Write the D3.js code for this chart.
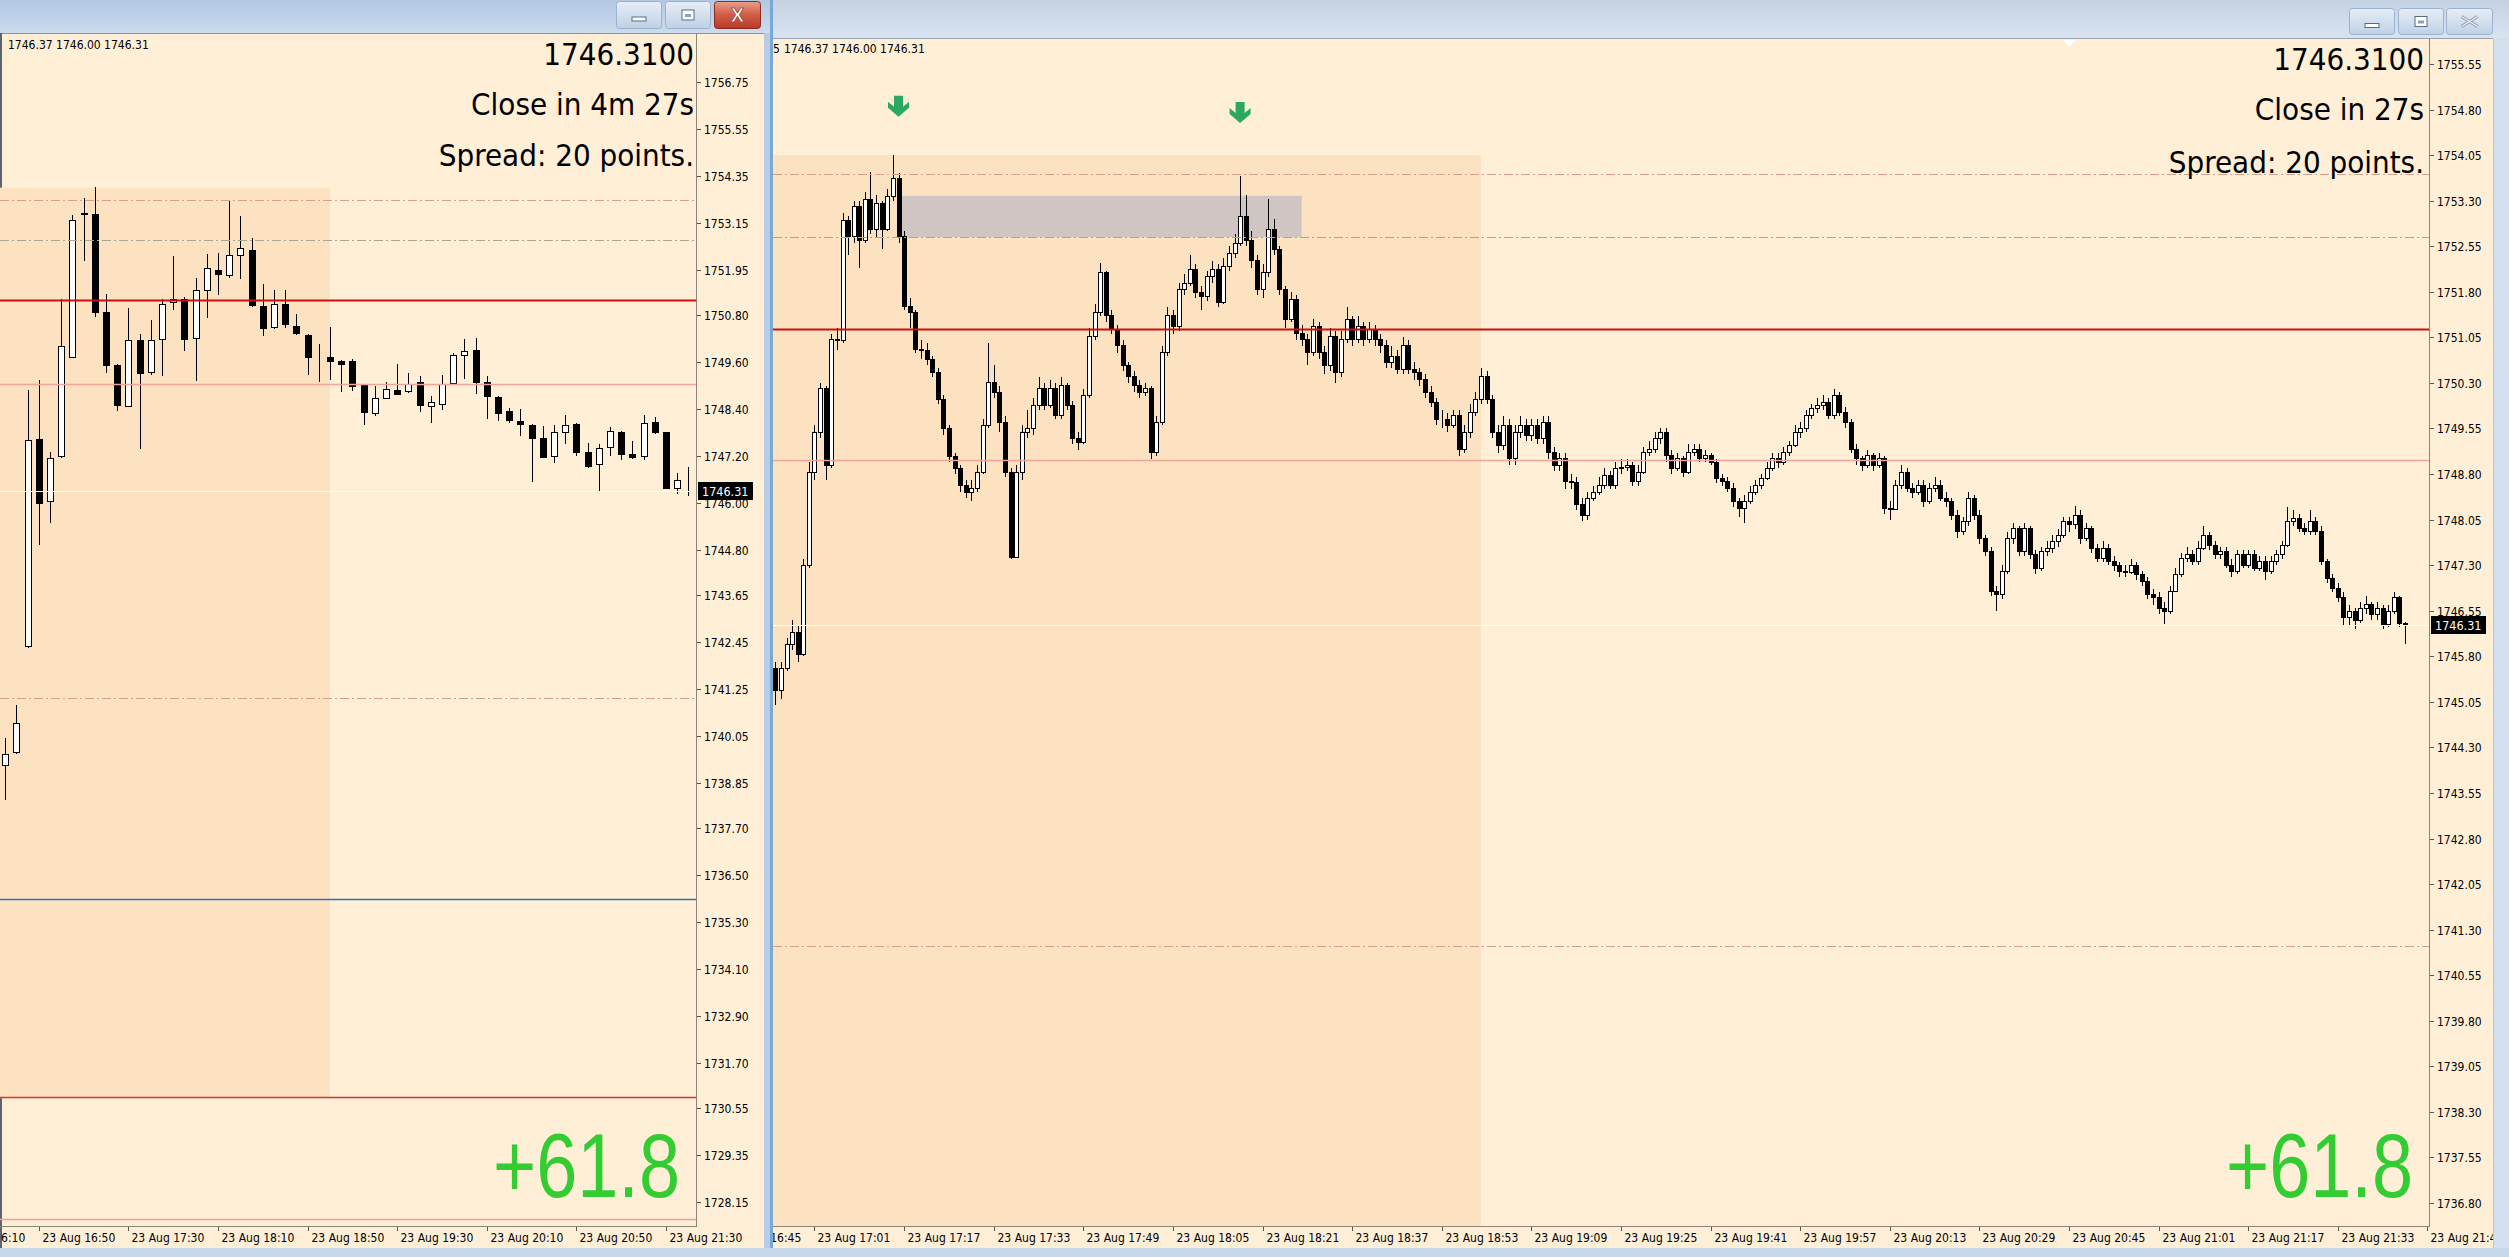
<!DOCTYPE html>
<html><head><meta charset="utf-8">
<script src="https://cdn.jsdelivr.net/npm/d3@7"></script>
<style>
html,body{margin:0;padding:0;background:#c6d7eb;overflow:hidden}
svg{display:block}
</style></head><body>
<svg id="c" width="2509" height="1257"></svg>
<script>
// ---------------- DATA ----------------
// Left window: XAUUSD M5, bars 16:35 .. 21:45
const m5Open = [1739.31,1739.65,1742.36,1747.63,1746.06,1747.21,1749.74,1753.38,1753.39,1750.88,1749.52,1748.47,1750.16,1749.34,1750.18,1751.13,1751.21,1750.22,1751.43,1751.94,1751.83,1752.33,1752.46,1751.04,1750.50,1751.09,1750.53,1750.29,1749.75,1749.73,1749.63,1749.62,1749.00,1748.29,1748.68,1748.89,1748.86,1749.10,1748.47,1748.54,1749.07,1749.77,1749.90,1749.08,1748.71,1748.36,1748.09,1748.00,1747.65,1747.19,1747.80,1748.02,1747.30,1747.00,1747.43,1747.80,1747.25,1747.19,1748.06,1747.80,1746.38,1746.56,1746.50];
const m5High = [1740.00,1740.84,1748.89,1749.15,1747.30,1751.20,1753.36,1753.78,1754.06,1751.34,1749.55,1750.97,1750.32,1750.66,1751.22,1752.31,1751.25,1751.75,1752.35,1752.38,1753.73,1753.34,1752.77,1751.59,1751.45,1751.45,1750.82,1750.32,1750.05,1750.50,1749.66,1749.68,1749.02,1748.99,1749.10,1749.56,1749.33,1749.24,1748.73,1749.26,1749.84,1750.18,1750.22,1749.24,1748.74,1748.43,1748.41,1748.02,1747.96,1747.99,1748.25,1748.04,1747.54,1747.51,1747.94,1747.83,1747.57,1748.25,1748.20,1747.82,1746.77,1746.93,1746.60];
const m5Low = [1738.42,1739.60,1742.30,1744.92,1745.50,1747.15,1749.70,1752.19,1750.74,1749.31,1748.36,1748.45,1747.39,1749.26,1749.24,1750.93,1749.87,1749.12,1750.73,1751.30,1751.75,1751.73,1751.01,1750.26,1750.45,1750.48,1750.29,1749.26,1749.10,1749.13,1748.84,1748.86,1747.99,1748.23,1748.65,1748.75,1748.81,1748.33,1748.04,1748.38,1749.02,1749.17,1748.78,1748.15,1748.09,1748.04,1747.72,1746.53,1747.14,1747.01,1747.51,1747.19,1746.90,1746.27,1747.19,1747.09,1747.12,1747.09,1747.75,1746.38,1746.23,1746.17,1746.00];
const m5Close = [1739.59,1740.37,1747.60,1746.00,1747.15,1750.02,1753.23,1753.41,1750.87,1749.53,1748.49,1750.16,1749.32,1750.16,1751.09,1751.20,1750.19,1751.43,1752.01,1751.85,1752.33,1752.51,1751.05,1750.46,1751.08,1750.56,1750.33,1749.74,1749.76,1749.63,1749.56,1748.99,1748.33,1748.68,1748.92,1748.78,1749.03,1748.51,1748.57,1749.03,1749.78,1749.87,1749.10,1748.72,1748.31,1748.11,1748.01,1747.67,1747.17,1747.81,1747.98,1747.30,1746.94,1747.40,1747.85,1747.26,1747.17,1748.05,1747.82,1746.38,1746.58,1746.56,1746.31];

// Right window: XAUUSD M1, bars 16:54 .. 21:45 (each bar opens at previous close)
const m1FirstOpen = 1745.60;
const m1Close = [
1745.25,1745.60,1746.00,1746.20,1745.84,1747.31,1748.84,1749.50,1750.21,1748.95,
1751.02,1751.00,1752.99,1752.72,1753.21,1752.66,1753.32,1752.83,1753.26,1752.83,
1753.37,1753.67,1752.72,1751.57,1751.46,1750.86,1750.85,1750.70,1750.48,1750.04,
1749.55,1749.09,1748.90,1748.62,1748.51,1748.57,1748.84,1749.61,1750.32,1750.15,
1749.66,1748.84,1747.43,1748.84,1749.50,1749.55,1749.93,1750.21,1749.93,1750.21,
1749.77,1750.26,1749.93,1749.39,1749.33,1750.10,1751.08,1751.46,1752.12,1751.41,
1751.19,1750.92,1750.59,1750.42,1750.26,1750.15,1750.21,1749.17,1749.66,1750.81,
1751.41,1751.24,1751.84,1751.95,1752.17,1751.79,1751.73,1752.06,1752.17,1751.63,
1752.23,1752.44,1752.61,1753.04,1752.66,1752.33,1751.84,1752.12,1752.83,1752.50,
1751.84,1751.35,1751.68,1751.13,1751.02,1750.81,1751.24,1750.81,1750.59,1751.08,
1750.48,1751.02,1751.35,1751.02,1751.24,1751.02,1751.19,1751.02,1750.92,1750.64,
1750.75,1750.53,1750.92,1750.53,1750.48,1750.37,1750.15,1749.99,1749.71,1749.70,
1749.61,1749.77,1749.22,1749.50,1749.82,1750.04,1750.42,1750.04,1749.50,1749.28,
1749.61,1749.06,1749.50,1749.61,1749.44,1749.61,1749.39,1749.66,1749.17,1748.95,
1749.06,1748.68,1748.67,1748.30,1748.13,1748.41,1748.51,1748.62,1748.79,1748.62,
1748.90,1748.92,1748.95,1748.68,1748.84,1749.17,1749.22,1749.39,1749.50,1749.11,
1748.90,1749.06,1748.84,1749.17,1749.22,1749.06,1749.11,1749.00,1748.73,1748.68,
1748.57,1748.35,1748.24,1748.35,1748.51,1748.62,1748.73,1748.90,1749.06,1749.00,
1749.17,1749.28,1749.50,1749.55,1749.77,1749.88,1749.93,1749.99,1749.77,1750.10,
1749.82,1749.66,1749.22,1749.06,1748.95,1749.11,1748.95,1749.06,1748.24,1748.23,
1748.62,1748.84,1748.57,1748.51,1748.62,1748.35,1748.57,1748.62,1748.41,1748.35,
1748.13,1747.86,1748.02,1748.41,1748.13,1747.75,1747.53,1746.88,1746.82,1747.20,
1747.75,1747.91,1747.53,1747.91,1747.48,1747.26,1747.53,1747.59,1747.70,1747.80,
1748.02,1747.97,1748.13,1747.75,1747.91,1747.59,1747.42,1747.59,1747.37,1747.31,
1747.20,1747.19,1747.31,1747.15,1747.04,1746.82,1746.77,1746.60,1746.55,1746.88,
1747.15,1747.42,1747.48,1747.37,1747.59,1747.80,1747.64,1747.48,1747.53,1747.31,
1747.20,1747.48,1747.31,1747.48,1747.26,1747.37,1747.20,1747.37,1747.48,1747.64,
1748.02,1748.08,1747.91,1747.86,1748.02,1747.86,1747.37,1747.09,1746.93,1746.77,
1746.44,1746.55,1746.39,1746.60,1746.66,1746.49,1746.60,1746.33,1746.55,1746.77,
1746.35,1746.31];
const m1High = [
1745.70,1745.70,1746.10,1746.40,1746.30,1747.40,1749.00,1749.60,1750.30,1750.25,
1751.10,1751.20,1753.10,1753.05,1753.30,1753.30,1753.45,1753.78,1753.40,1753.30,
1753.50,1754.05,1753.75,1752.80,1751.70,1751.50,1751.00,1750.95,1750.75,1750.55,
1750.10,1749.60,1749.15,1748.95,1748.70,1748.70,1748.95,1749.70,1750.95,1750.60,
1750.25,1749.75,1748.90,1748.95,1749.60,1749.85,1750.05,1750.40,1750.30,1750.35,
1750.30,1750.40,1750.30,1750.00,1749.50,1750.20,1751.20,1751.60,1752.28,1752.15,
1751.50,1751.25,1751.00,1750.65,1750.50,1750.35,1750.30,1750.25,1749.75,1750.90,
1751.55,1751.50,1751.95,1752.10,1752.40,1752.25,1751.90,1752.15,1752.30,1752.25,
1752.35,1752.55,1752.75,1753.71,1753.40,1752.80,1752.40,1752.25,1753.32,1753.00,
1752.55,1751.90,1751.80,1751.75,1751.25,1751.10,1751.35,1751.30,1750.90,1751.20,
1751.15,1751.15,1751.55,1751.40,1751.40,1751.30,1751.30,1751.25,1751.10,1751.00,
1750.90,1750.85,1751.05,1751.00,1750.65,1750.55,1750.45,1750.25,1750.05,1749.85,
1749.80,1749.85,1749.85,1749.60,1749.95,1750.15,1750.55,1750.50,1750.10,1749.60,
1749.75,1749.70,1749.60,1749.75,1749.70,1749.70,1749.70,1749.75,1749.75,1749.25,
1749.15,1749.15,1748.80,1748.75,1748.40,1748.50,1748.60,1748.75,1748.90,1748.85,
1749.00,1749.05,1749.05,1749.00,1748.95,1749.25,1749.35,1749.50,1749.55,1749.55,
1749.20,1749.15,1749.10,1749.30,1749.30,1749.30,1749.20,1749.15,1749.05,1748.80,
1748.75,1748.65,1748.40,1748.45,1748.60,1748.70,1748.80,1749.00,1749.15,1749.15,
1749.25,1749.35,1749.60,1749.65,1749.85,1749.95,1750.05,1750.10,1750.05,1750.20,
1750.15,1749.90,1749.70,1749.30,1749.10,1749.20,1749.15,1749.15,1749.10,1748.35,
1748.70,1748.95,1748.90,1748.65,1748.70,1748.70,1748.65,1748.75,1748.70,1748.50,
1748.40,1748.20,1748.10,1748.50,1748.45,1748.20,1747.80,1747.60,1746.95,1747.30,
1747.85,1748.00,1747.95,1748.00,1747.95,1747.55,1747.60,1747.70,1747.80,1747.90,
1748.10,1748.10,1748.27,1748.20,1748.00,1747.95,1747.65,1747.70,1747.65,1747.45,
1747.35,1747.30,1747.40,1747.35,1747.20,1747.10,1746.90,1746.85,1746.70,1746.95,
1747.25,1747.50,1747.60,1747.55,1747.70,1747.94,1747.85,1747.70,1747.60,1747.60,
1747.40,1747.55,1747.55,1747.55,1747.55,1747.45,1747.45,1747.45,1747.55,1747.70,
1748.25,1748.20,1748.15,1748.00,1748.20,1748.10,1747.95,1747.40,1747.15,1747.00,
1746.85,1746.65,1746.60,1746.70,1746.80,1746.70,1746.70,1746.65,1746.65,1746.85,
1746.80,1746.37];
const m1Low = [
1745.00,1745.10,1745.55,1745.90,1745.70,1745.80,1747.25,1748.70,1749.40,1748.70,
1748.90,1750.85,1750.95,1752.40,1752.60,1752.20,1752.60,1752.75,1752.70,1752.50,
1752.80,1753.30,1752.60,1751.50,1751.20,1750.80,1750.70,1750.60,1750.40,1749.95,
1749.45,1749.00,1748.80,1748.50,1748.40,1748.35,1748.50,1748.80,1749.55,1750.05,
1749.50,1748.75,1747.40,1747.43,1748.70,1749.40,1749.45,1749.85,1749.85,1749.88,
1749.70,1749.70,1749.85,1749.30,1749.20,1749.30,1750.05,1751.00,1751.40,1751.30,
1751.10,1750.80,1750.50,1750.30,1750.15,1750.05,1750.08,1749.05,1749.10,1749.60,
1750.75,1751.10,1751.15,1751.75,1751.90,1751.70,1751.50,1751.65,1751.95,1751.55,
1751.60,1752.15,1752.35,1752.55,1752.55,1752.20,1751.75,1751.70,1752.05,1752.40,
1751.75,1751.20,1751.30,1751.00,1750.90,1750.60,1750.75,1750.70,1750.45,1750.50,
1750.30,1750.40,1750.95,1750.90,1750.95,1750.90,1750.95,1750.90,1750.80,1750.55,
1750.55,1750.45,1750.45,1750.45,1750.35,1750.25,1750.05,1749.90,1749.60,1749.55,
1749.50,1749.55,1749.10,1749.15,1749.40,1749.75,1749.95,1749.95,1749.40,1749.15,
1749.20,1748.95,1748.95,1749.40,1749.35,1749.35,1749.30,1749.30,1749.05,1748.85,
1748.85,1748.55,1748.55,1748.20,1748.03,1748.05,1748.35,1748.45,1748.55,1748.55,
1748.55,1748.80,1748.85,1748.60,1748.60,1748.80,1749.10,1749.15,1749.30,1749.00,
1748.80,1748.85,1748.75,1748.80,1749.10,1749.00,1749.00,1748.95,1748.65,1748.60,
1748.50,1748.25,1748.10,1748.00,1748.30,1748.45,1748.55,1748.70,1748.85,1748.90,
1748.95,1749.10,1749.25,1749.40,1749.50,1749.70,1749.80,1749.85,1749.70,1749.70,
1749.75,1749.55,1749.15,1748.95,1748.85,1748.90,1748.85,1748.90,1748.15,1748.05,
1748.20,1748.55,1748.50,1748.40,1748.45,1748.25,1748.30,1748.50,1748.35,1748.25,
1748.05,1747.75,1747.80,1747.95,1748.05,1747.65,1747.45,1746.80,1746.55,1746.75,
1747.15,1747.65,1747.45,1747.45,1747.40,1747.15,1747.20,1747.45,1747.50,1747.60,
1747.75,1747.85,1747.90,1747.65,1747.70,1747.50,1747.35,1747.35,1747.30,1747.20,
1747.10,1747.10,1747.15,1747.05,1746.95,1746.75,1746.65,1746.50,1746.33,1746.50,
1746.85,1747.10,1747.35,1747.30,1747.30,1747.55,1747.55,1747.40,1747.40,1747.25,
1747.10,1747.15,1747.25,1747.25,1747.20,1747.20,1747.05,1747.15,1747.30,1747.40,
1747.60,1747.95,1747.85,1747.80,1747.80,1747.80,1747.30,1747.00,1746.85,1746.70,
1746.30,1746.30,1746.25,1746.35,1746.50,1746.40,1746.40,1746.25,1746.28,1746.50,
1746.28,1746.00];

// Axis tick labels
const m5PriceTicks = ["1756.75","1755.55","1754.35","1753.15","1751.95","1750.80","1749.60","1748.40","1747.20","1746.00","1744.80","1743.65","1742.45","1741.25","1740.05","1738.85","1737.70","1736.50","1735.30","1734.10","1732.90","1731.70","1730.55","1729.35","1728.15"];
const m1PriceTicks = ["1755.55","1754.80","1754.05","1753.30","1752.55","1751.80","1751.05","1750.30","1749.55","1748.80","1748.05","1747.30","1746.55","1745.80","1745.05","1744.30","1743.55","1742.80","1742.05","1741.30","1740.55","1739.80","1739.05","1738.30","1737.55","1736.80"];
const m5TimeLabels = ["23 Aug 16:10","23 Aug 16:50","23 Aug 17:30","23 Aug 18:10","23 Aug 18:50","23 Aug 19:30","23 Aug 20:10","23 Aug 20:50","23 Aug 21:30"];
const m5TimeBars = [-5,3,11,19,27,35,43,51,59];
const m1TimeLabels = ["23 Aug 16:45","23 Aug 17:01","23 Aug 17:17","23 Aug 17:33","23 Aug 17:49","23 Aug 18:05","23 Aug 18:21","23 Aug 18:37","23 Aug 18:53","23 Aug 19:09","23 Aug 19:25","23 Aug 19:41","23 Aug 19:57","23 Aug 20:13","23 Aug 20:29","23 Aug 20:45","23 Aug 21:01","23 Aug 21:17","23 Aug 21:33","23 Aug 21:49"];
const m1TimeBars = [-9,7,23,39,55,71,87,103,119,135,151,167,183,199,215,231,247,263,279,295];

// Chart objects
const bidPrice = 1746.31;
const levelPrices = [1753.74, 1752.71, 1751.19, 1749.03, 1741.03, 1735.89, 1730.82, 1727.71];
const zonePrices = [1754.05, 1730.80];
const zoneEndM5Bar = 29, zoneEndM1Bar = 126;      // 19:00
const boxPrices = [1753.38, 1752.70];
const boxM1Bars = [22, 94];
const arrowM1Bars = [22, 83];
const arrowPrices = [1754.68, 1754.58];
const infoTextM5 = "1746.37 1746.00 1746.31";
const infoPrefixM1 = "1746.35";
const infoTextM1 = "1746.37 1746.00 1746.31";
const bigLines = ["1746.3100", "Spread: 20 points."];
const closeTextM5 = "Close in 4m 27s", closeTextM1 = "Close in 27s";
const resultText = "+61.8";

// ---------------- DRAW ----------------
const W = 2509, H = 1257;
const BG = '#FFEFD6', ZONE = '#FDE2C2';
const FONT = '"DejaVu Sans Condensed","DejaVu Sans",sans-serif';
const svg = d3.select('#c');
const defs = svg.append('defs');
function lg(id, stops){
  const g = defs.append('linearGradient').attr('id', id).attr('x1',0).attr('y1',0).attr('x2',0).attr('y2',1);
  stops.forEach(([o,c]) => g.append('stop').attr('offset', o).attr('stop-color', c));
}
lg('titleL', [[0,'#b2c7e1'],[0.45,'#bdd0e8'],[1,'#cddcee']]);
lg('titleR', [[0,'#c5d2e3'],[1,'#d9e3f0']]);
lg('btn', [[0,'#e6eef7'],[0.5,'#d3dfee'],[1,'#bfd1e6']]);
lg('btnClose', [[0,'#e8a08a'],[0.45,'#d4604a'],[1,'#b73a26']]);
function clip(id, x, y, w, h){ defs.append('clipPath').attr('id', id).append('rect').attr('x',x).attr('y',y).attr('width',w).attr('height',h); }
clip('plotL', 0, 33, 696, 1193);
clip('plotR', 773, 39, 1656, 1187);
clip('winL', 0, 33, 764, 1215);
clip('winR', 773, 39, 1720, 1209);

svg.append('rect').attr('width',W).attr('height',H).attr('fill','#c6d7eb');

// ---- window chrome ----
svg.append('rect').attr('x',0).attr('y',0).attr('width',770).attr('height',33).attr('fill','url(#titleL)');
svg.append('rect').attr('x',770).attr('y',0).attr('width',1739).attr('height',38).attr('fill','url(#titleR)');
svg.append('rect').attr('x',0).attr('y',33).attr('width',764).attr('height',1215).attr('fill',BG);
svg.append('rect').attr('x',773).attr('y',39).attr('width',1720).attr('height',1209).attr('fill',BG);
svg.append('rect').attr('x',764).attr('y',33).attr('width',6).attr('height',1224).attr('fill','#b7cde7');
svg.append('rect').attr('x',770).attr('y',0).attr('width',3).attr('height',1257).attr('fill','#79a9d2');
svg.append('rect').attr('x',2493).attr('y',38).attr('width',16).attr('height',1219).attr('fill','#d3dfec');
svg.append('line').attr('x1',2493.5).attr('x2',2493.5).attr('y1',39).attr('y2',1248).attr('stroke','#b9c7d8');
svg.append('line').attr('x1',0).attr('x2',764).attr('y1',33.5).attr('y2',33.5).attr('stroke','#8a8f98');
svg.append('line').attr('x1',773).attr('x2',2493).attr('y1',38.5).attr('y2',38.5).attr('stroke','#9aa2ad');
svg.append('rect').attr('x',0).attr('y',33).attr('width',2).attr('height',1215).attr('fill','#5c6470');
svg.append('rect').attr('x',0).attr('y',1248).attr('width',2509).attr('height',9).attr('fill','#c9d9ec');

function button(x, y, w, h, kind, active){
  const g = svg.append('g');
  g.append('rect').attr('x',x+0.5).attr('y',y+0.5).attr('width',w-1).attr('height',h-1).attr('rx',3)
    .attr('fill', kind==='close' && active ? 'url(#btnClose)' : 'url(#btn)')
    .attr('stroke', kind==='close' && active ? '#8a2a1c' : '#9db2cc');
  const cx = x + w/2, cy = y + h/2;
  if (kind==='min') {
    g.append('rect').attr('x',cx-7).attr('y',cy+2).attr('width',14).attr('height',4).attr('fill','#fff').attr('stroke','#5a6a80').attr('stroke-width',1);
  } else if (kind==='max') {
    g.append('rect').attr('x',cx-6).attr('y',cy-5).attr('width',12).attr('height',10).attr('fill','#fff').attr('stroke','#5a6a80');
    g.append('rect').attr('x',cx-3).attr('y',cy-1).attr('width',6).attr('height',3).attr('fill','#8da0b8');
  } else {
    if (active) {
      g.append('text').attr('x',cx).attr('y',cy+7).attr('text-anchor','middle').attr('font-family','"Liberation Sans",sans-serif')
        .attr('font-weight','bold').attr('font-size',20).attr('fill','#fff').attr('stroke','#7a2a1c').attr('stroke-width',0.6).text('X');
    } else {
      g.append('path').attr('d',`M${cx-8},${cy-5} L${cx+8},${cy+5} M${cx+8},${cy-5} L${cx-8},${cy+5}`)
        .attr('stroke','#8a97a8').attr('stroke-width',3).attr('fill','none');
      g.append('path').attr('d',`M${cx-8},${cy-5} L${cx+8},${cy+5} M${cx+8},${cy-5} L${cx-8},${cy+5}`)
        .attr('stroke','#eef2f7').attr('stroke-width',1.4).attr('fill','none');
    }
  }
}
button(616,1,46,28,'min',true); button(665,1,46,28,'max',true); button(714,1,47,28,'close',true);
button(2349,8,46,27,'min',false); button(2398,8,46,27,'max',false); button(2446,8,47,27,'close',false);

// ---- scales ----
const yL = d3.scaleLinear().domain([1728.15, 1756.75]).range([1202, 82]);
const xL = d3.scaleLinear().domain([0, 62]).range([5.2, 699.6]);
const yR = d3.scaleLinear().domain([1736.80, 1755.55]).range([1203, 64]);
const xR = d3.scaleLinear().domain([0, 291]).range([775.3, 2404.9]);

const m5 = m5Close.map((c,i) => ({i, o:m5Open[i], h:m5High[i], l:m5Low[i], c}));
const m1 = m1Close.map((c,i) => ({i, o: i ? m1Close[i-1] : m1FirstOpen, h:m1High[i], l:m1Low[i], c}));

const levelStyle = [
  {stroke:'#d7a08c', w:1, dash:'9,3,2,3'},
  {stroke:'#aca593', w:1, dash:'9,3,2,3'},
  {stroke:'#c81212', w:2, dash:null},
  {stroke:'#efa59c', w:1.5, dash:null},
  {stroke:'#d3a08e', w:1, dash:'9,3,2,3'},
  {stroke:'#2f72b8', w:1.3, dash:null},
  {stroke:'#d83232', w:1.3, dash:null},
  {stroke:'#e9a0a0', w:1.3, dash:null}
];

function candles(g, bars, x, y, bw){
  const sel = g.selectAll('g.cd').data(bars).join('g').attr('class','cd').attr('shape-rendering','crispEdges');
  sel.append('line')
    .attr('x1', d => Math.round(x(d.i)) + 0.5).attr('x2', d => Math.round(x(d.i)) + 0.5)
    .attr('y1', d => y(Math.max(d.h, d.o, d.c))).attr('y2', d => y(Math.min(d.l, d.o, d.c)))
    .attr('stroke', '#000').attr('stroke-width', 1);
  sel.append('rect')
    .attr('x', d => Math.round(x(d.i)) - Math.floor((bw-1)/2) + 0.5)
    .attr('y', d => Math.round(y(Math.max(d.o, d.c))) + 0.5)
    .attr('width', bw - 1)
    .attr('height', d => Math.max(0, Math.round(y(Math.min(d.o, d.c))) - Math.round(y(Math.max(d.o, d.c)))))
    .attr('fill', d => d.c >= d.o ? '#fff' : '#000')
    .attr('stroke', '#000').attr('stroke-width', 1);
}

function levels(g, y, x0, x1){
  levelPrices.forEach((p, k) => {
    const s = levelStyle[k];
    const yy = Math.round(y(p)) + 0.5;
    g.append('line').attr('x1',x0).attr('x2',x1).attr('y1',yy).attr('y2',yy)
      .attr('stroke', s.stroke).attr('stroke-width', s.w).attr('stroke-dasharray', s.dash);
  });
  const yb = Math.round(y(bidPrice)) + 0.5;
  g.append('line').attr('x1',x0).attr('x2',x1).attr('y1',yb).attr('y2',yb).attr('stroke','#ffffff').attr('stroke-width',1);
}

function priceAxis(ticks, y, axisX, top){
  const g = svg.append('g');
  g.append('line').attr('x1',axisX+0.5).attr('x2',axisX+0.5).attr('y1',top).attr('y2',1227).attr('stroke','#8c857a');
  ticks.forEach(t => {
    const yy = Math.round(y(+t)) + 0.5;
    g.append('line').attr('x1',axisX+1).attr('x2',axisX+5).attr('y1',yy).attr('y2',yy).attr('stroke','#555');
    g.append('text').attr('x',axisX+8).attr('y',yy+4.5).attr('font-family',FONT).attr('font-stretch','condensed')
      .attr('font-size',12).attr('fill','#000').text(t);
  });
  const yb = y(bidPrice);
  g.append('rect').attr('x',axisX+2).attr('y',Math.round(yb)-9).attr('width',55).attr('height',18).attr('fill','#000');
  g.append('text').attr('x',axisX+6).attr('y',Math.round(yb)+5).attr('font-family',FONT).attr('font-stretch','condensed')
    .attr('font-size',12.5).attr('fill','#fff').text(bidPrice.toFixed(2));
}

// labels that start left of the window edge only show their trailing part
function timeAxis(labels, bars, x, x0, axisX, clipId){
  const g = svg.append('g').attr('clip-path', `url(#${clipId})`);
  g.append('line').attr('x1',x0).attr('x2',axisX+1).attr('y1',1226.5).attr('y2',1226.5).attr('stroke','#8c857a');
  labels.forEach((t, k) => {
    const xx = Math.round(x(bars[k])) + 0.5;
    g.append('line').attr('x1',xx).attr('x2',xx).attr('y1',1227).attr('y2',1231).attr('stroke','#555');
    const txt = g.append('text').attr('x',xx+3).attr('y',1241.5).attr('font-family',FONT).attr('font-stretch','condensed')
      .attr('font-size',12).attr('fill','#000').text(t);
    const full = txt.node().getComputedTextLength();
    const endX = xx + 3 + full;
    if (xx + 3 < x0 - 4) {
      let s = t;
      while (s.length > 1) {
        const cand = s.slice(1);
        txt.text(cand);
        const w = txt.node().getComputedTextLength();
        s = cand;
        if (endX - w >= x0 - 4) break;
      }
      txt.text(s).attr('x', endX).attr('text-anchor','end');
    }
  });
}

function bigText(x, ys, closeText){
  const g = svg.append('g').attr('font-family',FONT).attr('font-stretch','condensed').attr('font-size',31)
    .attr('fill','#000').attr('text-anchor','end');
  g.append('text').attr('x',x).attr('y',ys[0]).text(bigLines[0]);
  g.append('text').attr('x',x).attr('y',ys[1]).text(closeText);
  g.append('text').attr('x',x).attr('y',ys[2]).text(bigLines[1]);
}

function result(x, yBase){
  const g = svg.append('g').attr('transform', `translate(${x},${yBase})`);
  const t = g.append('text').attr('x',0).attr('y',0).attr('text-anchor','end')
    .attr('font-family','"Liberation Sans Narrow","Liberation Sans",sans-serif').attr('font-size',90)
    .attr('fill','#33cc33').text(resultText);
  const w = t.node().getComputedTextLength();
  t.attr('transform', `scale(${(187 / w).toFixed(4)},1)`);
}

// ---------- LEFT (M5) ----------
{
  const g = svg.append('g').attr('clip-path','url(#plotL)');
  g.append('rect').attr('x', xL(-10)).attr('y', yL(zonePrices[0]))
    .attr('width', xL(zoneEndM5Bar) - xL(-10)).attr('height', yL(zonePrices[1]) - yL(zonePrices[0])).attr('fill', ZONE);
  candles(g.append('g'), m5, xL, yL, 7);
  levels(g, yL, 0, 696);
  priceAxis(m5PriceTicks, yL, 696, 33);
  timeAxis(m5TimeLabels, m5TimeBars, xL, 0, 696, 'winL');
  svg.append('text').attr('x',8).attr('y',49).attr('font-family',FONT).attr('font-stretch','condensed')
    .attr('font-size',12).attr('fill','#000').text(infoTextM5);
  bigText(694, [65, 115, 166], closeTextM5);
  result(680, 1197);
}

// ---------- RIGHT (M1) ----------
{
  const g = svg.append('g').attr('clip-path','url(#plotR)');
  g.append('rect').attr('x', xR(-30)).attr('y', yR(zonePrices[0]))
    .attr('width', xR(zoneEndM1Bar) - xR(-30)).attr('height', yR(zonePrices[1]) - yR(zonePrices[0])).attr('fill', ZONE);
  g.append('rect').attr('x', xR(boxM1Bars[0])).attr('y', yR(boxPrices[0]))
    .attr('width', xR(boxM1Bars[1]) - xR(boxM1Bars[0])).attr('height', yR(boxPrices[1]) - yR(boxPrices[0]))
    .attr('fill', '#cfc5c3');
  candles(g.append('g'), m1, xR, yR, 5);
  levels(g, yR, 773, 2429);
  // arrows
  arrowM1Bars.forEach((b, k) => {
    const cx = xR(b), ty = yR(arrowPrices[k]);
    const pts = [[-4.5,-21],[4.5,-21],[4.5,-10],[10.5,-15],[10.5,-9],[0,0],[-10.5,-9],[-10.5,-15],[-4.5,-10]];
    g.append('polygon').attr('points', pts.map(p => [cx+p[0], ty+p[1]].join(',')).join(' ')).attr('fill','#2ba862');
  });
  // chart-shift marker
  g.append('polygon').attr('points','2063,40 2076,40 2069.5,47').attr('fill','#ffffff');
  priceAxis(m1PriceTicks, yR, 2429, 39);
  timeAxis(m1TimeLabels, m1TimeBars, xR, 773, 2429, 'winR');
  const ig = svg.append('g').attr('clip-path','url(#winR)')
    .attr('font-family',FONT).attr('font-stretch','condensed').attr('font-size',12).attr('fill','#000');
  ig.append('text').attr('x',780).attr('y',53).attr('text-anchor','end').text(infoPrefixM1);
  ig.append('text').attr('x',784).attr('y',53).text(infoTextM1);
  bigText(2424, [70, 120, 173], closeTextM1);
  result(2413, 1197);
}
</script>
</body></html>
